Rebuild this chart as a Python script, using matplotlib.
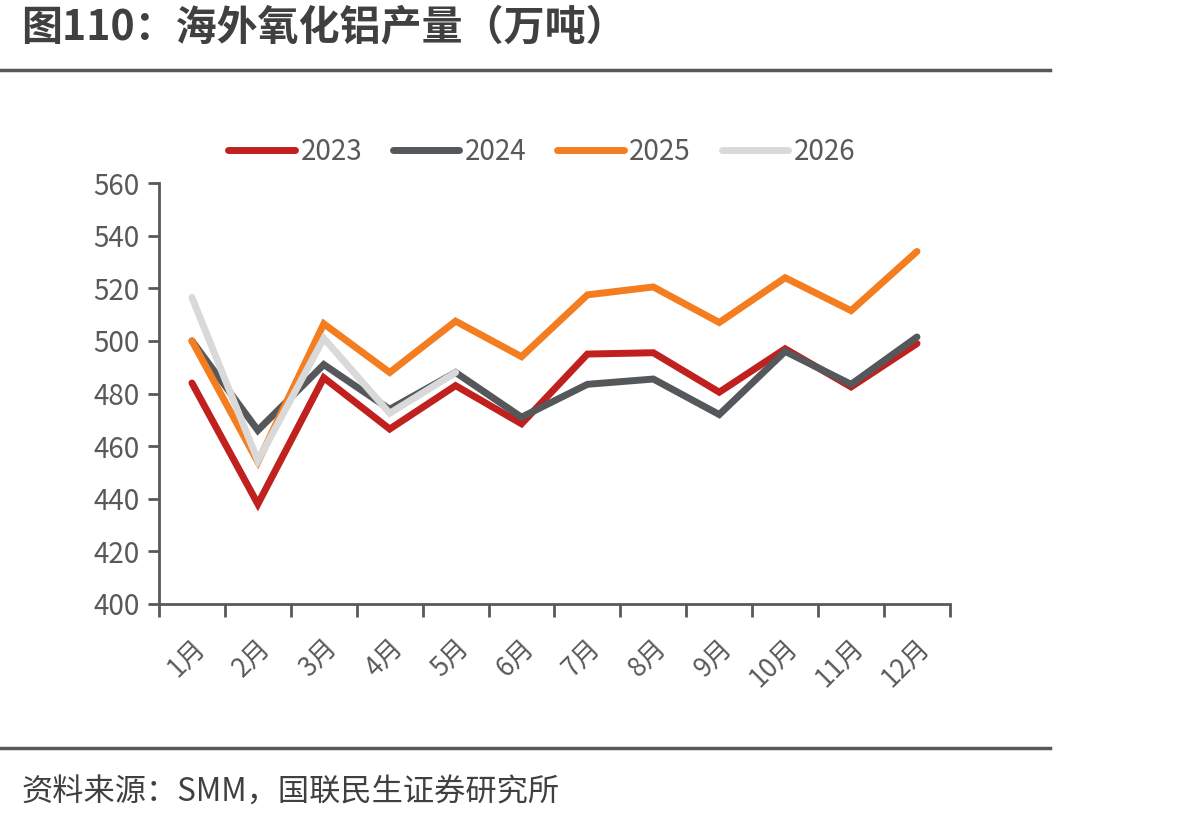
import numpy as np
import matplotlib.pyplot as plt
from matplotlib.lines import Line2D

plt.rcParams['font.family'] = ['Noto Sans CJK SC', 'DejaVu Sans']

months = ["1月", "2月", "3月", "4月", "5月", "6月", "7月", "8月", "9月", "10月", "11月", "12月"]
v2023 = [484, 438, 486, 466.5, 483, 468.5, 495, 495.5, 480.5, 497, 482.5, 499]
v2024 = [500, 466, 491, 474, 488, 471, 483.5, 485.5, 472, 496, 483.5, 501.5]
v2025 = [500, 454, 506.5, 488, 507.5, 494, 517.5, 520.5, 507, 524, 511.5, 534]
v2026 = [516.5, 454.5, 501, 472.5, 488]
series = ["2023", "2024", "2025", "2026"]
colors = ['#C0201E', '#55585B', '#F47D20', '#D9D9D9']

fig = plt.figure(figsize=(11.99, 8.23), dpi=100)
ax = fig.add_axes([0.1326, 0.2661, 0.6597, 0.5115])

gray = '#595959'
data = [v2023, v2024, v2025, v2026]
for k in range(4):
    y = data[k]
    x = np.arange(len(y)) + 0.5
    ax.plot(x, y, color=colors[k], lw=5, solid_capstyle='round',
            solid_joinstyle='miter', zorder=3 + k)

ax.set_xlim(0, 12)
ax.set_ylim(400, 560)
ax.set_yticks(np.arange(400, 561, 20))
ax.set_xticks(np.arange(0, 13))
ax.set_xticklabels([])
ax.set_xticks(np.arange(12) + 0.5, minor=True)
ax.set_xticklabels(months, minor=True, rotation=45, ha='right', va='top',
                   rotation_mode='anchor', fontsize=19, color=gray)
ax.tick_params(axis='x', which='major', length=9, width=2, color=gray, direction='out')
ax.tick_params(axis='x', which='minor', length=0, pad=22)
ax.tick_params(axis='y', length=8, width=2, color=gray, labelsize=20,
               labelcolor=gray, pad=6)

for s in ['top', 'right']:
    ax.spines[s].set_visible(False)
for s in ['left', 'bottom']:
    ax.spines[s].set_color(gray)
    ax.spines[s].set_linewidth(2)

handles = [Line2D([], [], color=c, lw=5, solid_capstyle='round') for c in colors]
ax.legend(handles, series, loc='center', bbox_to_anchor=(0.484, 1.074), ncol=4,
          frameon=False, fontsize=20, labelcolor=gray, handlelength=2.4,
          handletextpad=0.2, columnspacing=1.1)

fig.text(0.018, 0.966, "图110：海外氧化铝产量（万吨）", fontsize=29.5, fontweight='bold',
         color='#404040', va='center', ha='left')
fig.add_artist(Line2D([0, 0.876], [1 - 70 / 823] * 2, color=gray, lw=2.5,
                      transform=fig.transFigure))
fig.add_artist(Line2D([0, 0.876], [1 - 748 / 823] * 2, color=gray, lw=2.5,
                      transform=fig.transFigure))
fig.text(0.018, 1 - 793 / 823, "资料来源：SMM，国联民生证券研究所", fontsize=22.5,
         color='#404040', va='center', ha='left')

fig.savefig("out.png", dpi=100)
